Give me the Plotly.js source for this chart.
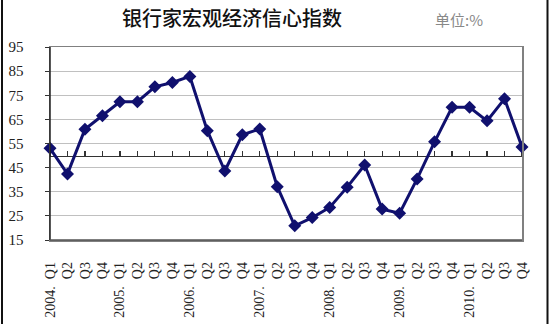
<!DOCTYPE html>
<html>
<head>
<meta charset="utf-8">
<script src="https://cdn.plot.ly/plotly-3.0.1.min.js"></script>
<style>html,body{margin:0;padding:0;background:#fff;}#chart{width:550px;height:324px;}</style>
</head>
<body>
<div id="chart"></div>
<script>
const quarters = ["2004Q1","2004Q2","2004Q3","2004Q4","2005Q1","2005Q2","2005Q3","2005Q4","2006Q1","2006Q2","2006Q3","2006Q4","2007Q1","2007Q2","2007Q3","2007Q4","2008Q1","2008Q2","2008Q3","2008Q4","2009Q1","2009Q2","2009Q3","2009Q4","2010Q1","2010Q2","2010Q3","2010Q4"];
const tickLabels = ["2004.\u00a0\u00a0Q1","Q2","Q3","Q4","2005.\u00a0\u00a0Q1","Q2","Q3","Q4","2006.\u00a0\u00a0Q1","Q2","Q3","Q4","2007.\u00a0\u00a0Q1","Q2","Q3","Q4","2008.\u00a0\u00a0Q1","Q2","Q3","Q4","2009.\u00a0\u00a0Q1","Q2","Q3","Q4","2010.\u00a0\u00a0Q1","Q2","Q3","Q4"];
const confidence = [53.0,42.4,60.9,66.5,72.3,72.3,78.5,80.3,82.8,60.3,43.6,58.6,61.0,37.1,20.9,24.3,28.5,36.9,46.1,27.8,26.1,40.3,55.7,70.0,70.0,64.4,73.5,53.6];
const yTicks = [15,25,35,45,55,65,75,85,95];
const title = "银行家宏观经济信心指数";
const unitText = "单位:%";

const navy = "#10106e";
const serif = "Liberation Serif, DejaVu Serif, serif";

const traces = [
  {x: quarters, y: confidence, xaxis: "x", yaxis: "y", mode: "none", hoverinfo: "skip", showlegend: false},
  {x: quarters, y: confidence, xaxis: "x2", yaxis: "y", type: "scatter", mode: "lines+markers",
   line: {color: navy, width: 3}, marker: {symbol: "diamond", size: 10, color: navy},
   cliponaxis: false, showlegend: false}
];

const layout = {
  width: 550, height: 324,
  margin: {l: 50, r: 28, t: 47, b: 84},
  paper_bgcolor: "#ffffff", plot_bgcolor: "#ffffff",
  showlegend: false,
  title: {text: title, font: {family: "Noto Sans CJK SC", size: 20, weight: 500, color: "#111"},
          xref: "container", yref: "container", x: 0.422, xanchor: "center", y: 0.94, yanchor: "middle"},
  xaxis: {type: "category", range: [0, 27], tickmode: "array", tickvals: quarters, ticktext: tickLabels,
          tickangle: -90, ticks: "outside", ticklen: 0, ticklabelstandoff: 15,
          tickfont: {family: serif, size: 14, color: "#222"},
          showline: true, linecolor: "#808080", linewidth: 1.5, mirror: true, showgrid: false, zeroline: false},
  xaxis2: {type: "category", overlaying: "x", anchor: "free", position: (50 - 15) / 80, side: "top",
           range: [0, 27], tickmode: "array", tickvals: quarters, showticklabels: false,
           ticks: "outside", ticklen: 5, tickwidth: 1.2, tickcolor: "#333",
           showline: true, linecolor: "#333", linewidth: 1.5, showgrid: false, zeroline: false,
           layer: "below traces"},
  yaxis: {range: [15, 95], tickmode: "array", tickvals: yTicks, ticks: "outside", ticklen: 4, tickcolor: "#333",
          ticklabelstandoff: 18, tickfont: {family: serif, size: 15, color: "#222"},
          showgrid: true, gridcolor: "#c0c0c0", gridwidth: 1,
          showline: true, linecolor: "#808080", linewidth: 1.5, mirror: true, zeroline: false},
  annotations: [
    {text: unitText, xref: "paper", yref: "paper", x: (459 - 50) / 472, y: 1 + (47 - 20) / 193,
     xanchor: "center", yanchor: "middle", showarrow: false,
     font: {family: "Noto Sans CJK SC", size: 15, color: "#888"}}
  ],
  shapes: [
    {type: "line", xref: "paper", yref: "paper", x0: 0, x1: 0, y0: 0, y1: 1, line: {color: "#222", width: 1.5}},
    {type: "line", xref: "paper", yref: "paper", x0: 0, x1: 1, y0: 0, y1: 0, line: {color: "#555", width: 1.5}},
    {type: "line", xref: "paper", yref: "paper", x0: (2 - 50) / 472, x1: (2 - 50) / 472, y0: -0.5, y1: 1.3, line: {color: "#111", width: 2}},
    {type: "line", xref: "paper", yref: "paper", x0: (547.5 - 50) / 472, x1: (547.5 - 50) / 472, y0: -0.5, y1: 1.3, line: {color: "#111", width: 2}}
  ]
};

Plotly.newPlot("chart", traces, layout, {displayModeBar: false, staticPlot: true});
</script>
</body>
</html>
